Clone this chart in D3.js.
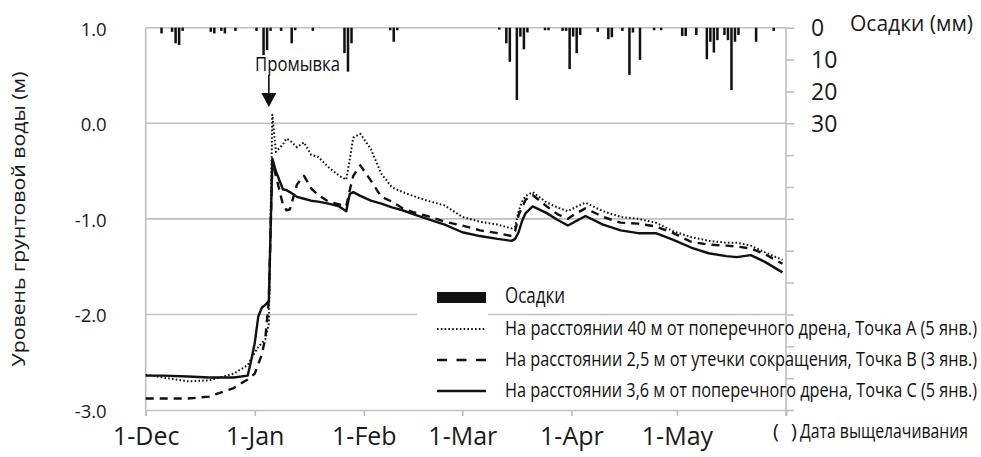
<!DOCTYPE html>
<html>
<head>
<meta charset="utf-8">
<script src="https://cdn.jsdelivr.net/npm/d3@7"></script>
<style>
  html, body { margin: 0; padding: 0; background: #fff; }
  svg { display: block; }
</style>
</head>
<body>
<svg id="chart" width="981" height="457"></svg>
<script>
// ---- data ----
const monthTicks  = ["2010-12-01","2011-01-01","2011-02-01","2011-03-01","2011-04-01","2011-05-01","2011-06-01"];
const monthLabels = ["1-Dec","1-Jan","1-Feb","1-Mar","1-Apr","1-May",""];

const levelTicks = [1, 0, -1, -2, -3];
const rainTicks  = [0, 10, 20, 30, 40, 50, 60, 70, 80, 90, 100, 110, 120];
const rainLabels = [0, 10, 20, 30];

// groundwater observation dates
const gwDates = [
  "2010-12-01","2010-12-06","2010-12-13","2010-12-19","2010-12-26","2010-12-30","2010-12-31",
  "2011-01-01","2011-01-02","2011-01-03","2011-01-04","2011-01-05","2011-01-06","2011-01-07",
  "2011-01-09","2011-01-10","2011-01-11","2011-01-13","2011-01-15","2011-01-17","2011-01-19",
  "2011-01-22","2011-01-25","2011-01-27","2011-01-28","2011-01-29","2011-01-31",
  "2011-02-03","2011-02-06","2011-02-09","2011-02-12","2011-02-15","2011-02-19","2011-02-24",
  "2011-03-01","2011-03-06","2011-03-11","2011-03-15","2011-03-16","2011-03-17","2011-03-18",
  "2011-03-19","2011-03-21","2011-03-25","2011-03-28","2011-03-31",
  "2011-04-02","2011-04-05","2011-04-10","2011-04-15","2011-04-20","2011-04-25","2011-04-30",
  "2011-05-05","2011-05-10","2011-05-15","2011-05-18","2011-05-22","2011-05-26","2011-05-31"
];

// Point A, 40 m from the cross drain (dotted)
const levelA = [
  -2.63,-2.66,-2.70,-2.69,-2.62,-2.53,-2.46,
  -2.40,-2.34,-2.30,-2.26,-2.10, 0.09,-0.30,
  -0.22,-0.16,-0.18,-0.25,-0.20,-0.33,-0.35,
  -0.46,-0.55,-0.59,-0.38,-0.15,-0.11,
  -0.27,-0.53,-0.67,-0.72,-0.76,-0.81,-0.86,
  -0.98,-1.03,-1.06,-1.10,-1.08,-0.92,-0.82,
  -0.76,-0.72,-0.83,-0.88,-0.92,
  -0.88,-0.83,-0.92,-0.98,-1.00,-1.04,-1.13,
  -1.19,-1.23,-1.25,-1.25,-1.28,-1.35,-1.43
];

// Point B, 2.5 m from the leak (dashed)
const levelB = [
  -2.88,-2.88,-2.88,-2.86,-2.77,-2.68,-2.65,
  -2.62,-2.52,-2.42,-2.25,-1.85,-0.40,-0.55,
  -0.85,-0.91,-0.90,-0.64,-0.55,-0.68,-0.75,
  -0.82,-0.85,-0.87,-0.70,-0.55,-0.44,
  -0.60,-0.77,-0.82,-0.89,-0.93,-0.97,-1.03,
  -1.07,-1.12,-1.15,-1.18,-1.13,-0.96,-0.88,
  -0.80,-0.75,-0.87,-0.95,-1.00,
  -0.95,-0.89,-0.98,-1.04,-1.05,-1.08,-1.15,
  -1.24,-1.27,-1.28,-1.29,-1.31,-1.37,-1.47
];

// Point C, 3.6 m from the cross drain (solid)
const levelC = [
  -2.64,-2.64,-2.65,-2.66,-2.66,-2.64,-2.48,
  -2.30,-2.02,-1.93,-1.90,-1.86,-0.37,-0.50,
  -0.69,-0.70,-0.72,-0.77,-0.79,-0.81,-0.82,
  -0.84,-0.87,-0.92,-0.74,-0.72,-0.76,
  -0.81,-0.84,-0.88,-0.91,-0.95,-1.00,-1.06,
  -1.14,-1.18,-1.21,-1.23,-1.21,-1.14,-1.02,
  -0.94,-0.87,-0.94,-1.01,-1.07,
  -1.03,-0.97,-1.06,-1.12,-1.15,-1.15,-1.22,
  -1.30,-1.36,-1.39,-1.40,-1.38,-1.45,-1.56
];

// daily precipitation
const rainDates = [
  "2010-12-05","2010-12-08","2010-12-09","2010-12-10","2010-12-11","2010-12-19","2010-12-20",
  "2010-12-22","2010-12-23","2010-12-26","2011-01-01","2011-01-03","2011-01-04","2011-01-05",
  "2011-01-08","2011-01-11","2011-01-12","2011-01-17","2011-01-26","2011-01-27","2011-01-28",
  "2011-02-08","2011-02-09","2011-02-10","2011-03-11","2011-03-13","2011-03-14","2011-03-16",
  "2011-03-17","2011-03-18","2011-03-19","2011-03-24","2011-03-25","2011-03-29","2011-03-30",
  "2011-03-31","2011-04-01","2011-04-02","2011-04-03","2011-04-08","2011-04-11","2011-04-12",
  "2011-04-15","2011-04-17","2011-04-18","2011-04-20","2011-04-24","2011-04-26","2011-05-02",
  "2011-05-03","2011-05-06","2011-05-09","2011-05-10","2011-05-11","2011-05-12","2011-05-14",
  "2011-05-15","2011-05-16","2011-05-17","2011-05-18","2011-05-23","2011-05-28"
];
const rainMm = [
  1.8, 1.3, 4.9, 5.4, 1.0, 1.3, 1.8,
  1.0, 1.8, 1.0, 1.0, 8.6, 7.0, 1.0,
  1.0, 4.9, 0.8, 1.0, 8.0, 13.8, 4.9,
  0.8, 4.4, 0.8, 0.6, 4.9, 10.7, 22.7,
  2.8, 6.8, 1.5, 0.8, 0.8, 1.0, 1.0,
  13.0, 2.8, 8.0, 2.3, 1.3, 3.6, 3.0,
  1.0, 14.8, 1.5, 10.1, 0.8, 0.8, 2.6,
  2.6, 2.3, 9.9, 4.4, 7.8, 3.9, 2.3,
  3.9, 19.6, 4.4, 2.3, 4.4, 1.0
];

const flushDate = "2011-01-05";

const seriesNames = [
  "На расстоянии 40 м от поперечного дрена, Точка А (5 янв.)",
  "На расстоянии 2,5 м от утечки сокращения, Точка В (3 янв.)",
  "На расстоянии 3,6 м от поперечного дрена, Точка С (5 янв.)"
];

// ---- layout ----
const parse = d3.utcParse("%Y-%m-%d");
const plotL = 145.7, plotR = 786, plotT = 27.7, plotB = 410;
const GRID = "#bfbfbf";
const SANS = "'Open Sans', 'Noto Sans', sans-serif";
const NARROW = "'Liberation Sans Narrow', 'Arial Narrow', 'Open Sans', sans-serif";

const svg = d3.select("#chart");

const x = d3.scaleUtc()
  .domain([parse("2010-12-01"), parse("2011-06-01")])
  .range([plotL, plotR]);
const y = d3.scaleLinear().domain([-3, 1]).range([plotB, plotT]);
const yRain = d3.scaleLinear().domain([0, 120]).range([plotT, plotB]);

// horizontal gridlines
svg.append("g").selectAll("line")
  .data(levelTicks.filter(v => v > -3))
  .join("line")
  .attr("x1", plotL).attr("x2", plotR)
  .attr("y1", d => y(d)).attr("y2", d => y(d))
  .attr("stroke", GRID).attr("stroke-width", 1.6);

// bottom axis
const xAxis = svg.append("g")
  .attr("transform", `translate(0,${plotB})`)
  .call(d3.axisBottom(x)
    .tickValues(monthTicks.map(parse))
    .tickSize(6)
    .tickFormat((d, i) => monthLabels[i]));
xAxis.select(".domain").attr("stroke", GRID).attr("stroke-width", 1.6);
xAxis.selectAll(".tick line").attr("stroke", GRID).attr("stroke-width", 1.6);
xAxis.selectAll(".tick text")
  .attr("y", 35).attr("dy", 0)
  .attr("font-family", SANS).attr("font-size", 25).attr("fill", "#1a1a1a");

// left axis
const yAxis = svg.append("g")
  .attr("transform", `translate(${plotL},0)`)
  .call(d3.axisLeft(y)
    .tickValues(levelTicks)
    .tickSize(0)
    .tickPadding(39)
    .tickFormat(v => v.toFixed(1)));
yAxis.select(".domain").attr("stroke", GRID).attr("stroke-width", 1.6)
  .attr("d", `M0,${plotT}V${plotB + 6}`);
yAxis.selectAll(".tick text")
  .attr("dy", "0.4em")
  .attr("font-family", SANS).attr("font-size", 18.5).attr("fill", "#1a1a1a");

// right precipitation axis
const rAxis = svg.append("g")
  .attr("transform", `translate(${plotR},0)`)
  .call(d3.axisRight(yRain)
    .tickValues(rainTicks)
    .tickSize(8)
    .tickPadding(17)
    .tickFormat(v => rainLabels.includes(v) ? String(v) : ""));
rAxis.select(".domain").attr("stroke", GRID).attr("stroke-width", 1.6)
  .attr("d", `M0,${plotT}V${plotB + 6}`);
rAxis.selectAll(".tick line").attr("stroke", GRID).attr("stroke-width", 1.6);
rAxis.selectAll(".tick text")
  .attr("dy", "0.36em")
  .attr("font-family", SANS).attr("font-size", 23).attr("fill", "#1a1a1a");

// precipitation bars hanging from the top
const rain = rainDates.map((d, i) => ({ date: parse(d), mm: rainMm[i] }));
svg.append("g").selectAll("rect")
  .data(rain)
  .join("rect")
  .attr("x", d => x(d.date) + 0.5)
  .attr("width", d => x(d3.utcDay.offset(d.date, 1)) - x(d.date) - 1)
  .attr("y", plotT)
  .attr("height", d => yRain(d.mm) - plotT)
  .attr("fill", "#111");

// groundwater level lines
const styles = [
  { values: levelA, dash: "1.6,2.2", width: 2 },
  { values: levelB, dash: "8,6", width: 2.4 },
  { values: levelC, dash: null, width: 2.4 }
];
const line = d3.line().x(d => x(d.date)).y(d => y(d.v));
styles.forEach(s => {
  const pts = gwDates.map((d, i) => ({ date: parse(d), v: s.values[i] }));
  svg.append("path")
    .datum(pts)
    .attr("d", line)
    .attr("fill", "none")
    .attr("stroke", "#111")
    .attr("stroke-width", s.width)
    .attr("stroke-linejoin", "round")
    .attr("stroke-dasharray", s.dash);
});

// flushing annotation
const fx = x(parse(flushDate));
svg.append("text")
  .attr("x", 255).attr("y", 71)
  .attr("textLength", 85).attr("lengthAdjust", "spacingAndGlyphs")
  .attr("font-family", NARROW).attr("font-size", 20).attr("fill", "#111")
  .text("Промывка");
svg.append("line")
  .attr("x1", fx).attr("x2", fx).attr("y1", 75).attr("y2", 94)
  .attr("stroke", "#111").attr("stroke-width", 1.6);
svg.append("path")
  .attr("d", `M${fx - 7.5},93L${fx + 7.5},93L${fx},107Z`)
  .attr("fill", "#111");

// axis titles
svg.append("text")
  .attr("transform", "translate(25,219) rotate(-90)")
  .attr("text-anchor", "middle")
  .attr("textLength", 295).attr("lengthAdjust", "spacingAndGlyphs")
  .attr("font-family", SANS).attr("font-size", 19).attr("fill", "#1a1a1a")
  .text("Уровень грунтовой воды (м)");
svg.append("text")
  .attr("x", 850).attr("y", 31)
  .attr("textLength", 123).attr("lengthAdjust", "spacingAndGlyphs")
  .attr("font-family", SANS).attr("font-size", 21).attr("fill", "#1a1a1a")
  .text("Осадки (мм)");

// legend
const lx0 = 437, lx1 = 486, tx = 505;
svg.append("rect")
  .attr("x", 417).attr("y", 282).attr("width", 71).attr("height", 120)
  .attr("fill", "#fff");
svg.append("rect")
  .attr("x", lx0).attr("y", 292).attr("width", lx1 - lx0).attr("height", 11)
  .attr("fill", "#111");
svg.append("text")
  .attr("x", tx).attr("y", 303)
  .attr("textLength", 60).attr("lengthAdjust", "spacingAndGlyphs")
  .attr("font-family", NARROW).attr("font-size", 21).attr("fill", "#111")
  .text("Осадки");
const rowY = [329, 360, 391];
styles.forEach((s, i) => {
  svg.append("line")
    .attr("x1", lx0).attr("x2", lx1).attr("y1", rowY[i]).attr("y2", rowY[i])
    .attr("stroke", "#111").attr("stroke-width", s.width)
    .attr("stroke-dasharray", i === 1 ? "10,9.5" : s.dash);
  svg.append("text")
    .attr("x", tx).attr("y", rowY[i] + 6)
    .attr("textLength", 472).attr("lengthAdjust", "spacingAndGlyphs")
    .attr("font-family", NARROW).attr("font-size", 20).attr("fill", "#111")
    .text(seriesNames[i]);
});

// leaching-date note
svg.append("text")
  .attr("x", 773).attr("y", 438)
  .attr("font-family", NARROW).attr("font-size", 20).attr("fill", "#111")
  .text("(");
svg.append("text")
  .attr("x", 791).attr("y", 438)
  .attr("font-family", NARROW).attr("font-size", 20).attr("fill", "#111")
  .text(")");
svg.append("text")
  .attr("x", 800).attr("y", 438)
  .attr("textLength", 168).attr("lengthAdjust", "spacingAndGlyphs")
  .attr("font-family", NARROW).attr("font-size", 20).attr("fill", "#111")
  .text("Дата выщелачивания");
</script>
</body>
</html>
